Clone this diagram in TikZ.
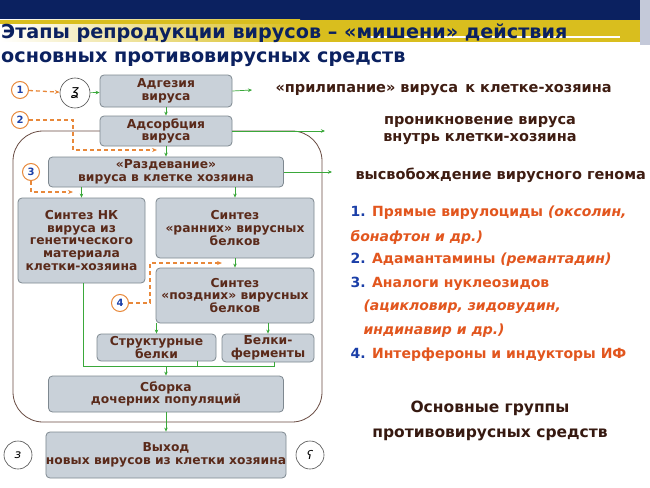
\documentclass[tikz,border=0pt]{standalone}
\usepackage{fontspec}
\setmainfont{DejaVu Sans}
\usetikzlibrary{arrows.meta}
\definecolor{navy}{HTML}{0B2160}
\definecolor{gold}{HTML}{D9BE1E}
\definecolor{boxf}{HTML}{C9D1D9}
\definecolor{boxd}{HTML}{7E8890}
\definecolor{btxt}{HTML}{5A2A1A}
\definecolor{grn}{HTML}{3AA83A}
\definecolor{org}{HTML}{E8883A}
\definecolor{ored}{HTML}{E2561E}
\definecolor{lblue}{HTML}{1B3FA8}
\begin{document}
\begin{tikzpicture}[x=1pt,y=-1pt,
 box/.style={draw=boxd,fill=boxf,rounded corners=4pt,line width=0.8pt,text=btxt,font=\fontsize{12.3}{12.8}\selectfont\bfseries,align=center,inner sep=0pt},
 num/.style={circle,draw=org,line width=1pt,fill=white,minimum size=17pt,inner sep=0pt,text=lblue,font=\fontsize{10}{10}\selectfont\bfseries},
 icon/.style={circle,draw=black!70,line width=0.6pt,fill=white,minimum size=30pt,inner sep=0pt},
 g/.style={draw=grn,line width=0.7pt},
 ga/.style={g,-{Stealth[length=4pt,width=3.5pt]}},
 od/.style={draw=org,line width=1.3pt,dash pattern=on 4pt off 3pt,-{Stealth[length=5pt,width=4pt]}},
 rt/.style={text=btxt!70!black,font=\fontsize{14.5}{17}\selectfont\bfseries,align=center},
 li/.style={anchor=west,font=\fontsize{14}{16}\selectfont\bfseries,text=ored}]
\useasboundingbox (0,0) rectangle (650,487);
\fill[white] (0,0) rectangle (650,487);
% header
\fill[navy] (0,0) rectangle (640,20);
\shade[left color=white,right color=gold] (0,20) rectangle (300,42);
\fill[gold] (300,20) rectangle (640,42);
\fill[gold] (0,20) rectangle (640,24);
\draw[white,line width=1.2pt] (370,37) -- (620,37);
\fill[navy!40!white,opacity=0.6] (640,0) rectangle (650,45);
\node[anchor=west,text=navy,font=\fontsize{19.2}{22}\selectfont\bfseries,inner sep=1pt] (t1) at (0,33) {Этапы репродукции вирусов – «мишени» действия};
\node[anchor=west,text=navy,font=\fontsize{19.2}{22}\selectfont\bfseries,inner sep=1pt] (t2) at (0,59) {основных противовирусных средств};
% big cell
\draw[draw=btxt!60!gray,line width=0.8pt,rounded corners=30pt] (13,131) rectangle (322,422);
% boxes
\node[box,minimum width=132pt,minimum height=32pt] (adg) at (166,91) {Адгезия\\вируса};
\node[box,minimum width=132pt,minimum height=30pt] (ads) at (166,131) {Адсорбция\\вируса};
\node[box,minimum width=235pt,minimum height=30pt] (raz) at (166,172) {«Раздевание»\\вируса в клетке хозяина};
\node[box,minimum width=127pt,minimum height=85pt] (nk) at (81.5,240.5) {Синтез НК\\вируса из\\генетического\\материала\\клетки-хозяина};
\node[box,minimum width=158pt,minimum height=60pt] (ran) at (235,228) {Синтез\\«ранних» вирусных\\белков};
\node[box,minimum width=158pt,minimum height=55pt] (poz) at (235,295.5) {Синтез\\«поздних» вирусных\\белков};
\node[box,minimum width=119pt,minimum height=27pt] (str) at (156.5,347.5) {Структурные\\белки};
\node[box,minimum width=92pt,minimum height=28pt] (fer) at (268,348) {Белки-\\ферменты};
\node[box,minimum width=235pt,minimum height=36pt] (sbo) at (166,394) {Сборка\\дочерних популяций};
\node[box,minimum width=235pt,minimum height=46pt] (vyh) at (166,455) {Выход\\новых вирусов из клетки хозяина};
% icons
\node[icon] (ic1) at (75,93) {\Large\itshape ʓ};
\node[icon,minimum size=28pt] (ic2) at (18,455) {\large\itshape ɜ};
\node[icon,minimum size=28pt] (ic3) at (310,455) {\large\itshape ʕ};
% numbers
\node[num] (n1) at (20,90) {1};
\node[num] (n2) at (20,120) {2};
\node[num] (n3) at (31,172) {3};
\node[num] (n4) at (120,303) {4};
% green arrows
\coordinate (e1) at (252,90);
\coordinate (e2) at (325,131);
\coordinate (e3) at (332,172);
\draw[ga] (ic1) -- (adg);
\draw[ga] (adg.east) -- (e1);
\draw[ga] (ads.east) -- (e2);
\draw[ga] (raz.east) -- (e3);
\draw[ga] (adg) -- (ads);
\draw[ga] (ads.south) -- (raz.north);
\draw[ga] (raz.south -| nk) -- (nk.north);
\draw[ga] (raz.south -| ran) -- (ran.north);
\draw[ga] (ran) -- (poz);
\draw[ga] (poz.south -| str) -- (str.north);
\draw[ga] (poz.south -| fer) -- (fer.north);
\coordinate (j1) at (83,366);
\coordinate (j2) at (274,366);
\draw[g] (nk.south -| j1) -- (j1) -- (j2) -- (fer.south -| j2);
\draw[g] (str.south -| 197,0) -- (197,366);
\draw[ga] (166,366) -- (sbo.north);
\draw[ga] (sbo) -- (vyh);
% orange dashed
\draw[od] (n1) -- (ic1);
\coordinate (o2) at (157,150);
\draw[od] (n2) -- (73,120) -- (73,150) -- (o2);
\coordinate (o3) at (73,192);
\draw[od] (n3) -- (31,192) -- (o3);
\coordinate (o4) at (222,263);
\draw[od] (n4) -- (150,303) -- (150,263) -- (o4);
% right texts
\node[rt,anchor=west] (r1) at (272,90) {«прилипание» вируса\enspace к клетке-хозяина};
\node[rt] (r2) at (480,131) {проникновение вируса\\внутрь клетки-хозяина};
\node[rt,anchor=west] (r3) at (352,175) {высвобождение вирусного генома};
\node[li] (l1) at (347,213) {\textcolor{lblue}{1.} Прямые вирулоциды \textit{(оксолин,}};
\node[li] (l2) at (347,237) {\textit{бонафтон и др.)}};
\node[li] (l3) at (347,260) {\textcolor{lblue}{2.} Адамантамины \textit{(ремантадин)}};
\node[li] (l4) at (347,284) {\textcolor{lblue}{3.} Аналоги нуклеозидов};
\node[li] (l5) at (360,307) {\textit{(ацикловир, зидовудин,}};
\node[li] (l6) at (360,331) {\textit{индинавир и др.)}};
\node[li] (l7) at (347,355) {\textcolor{lblue}{4.} Интерфероны и индукторы ИФ};
\node[rt,font=\fontsize{15.5}{25}\selectfont\bfseries,text=btxt!60!black] (og) at (490,421) {Основные группы\\противовирусных средств};
\end{tikzpicture}
\end{document}
